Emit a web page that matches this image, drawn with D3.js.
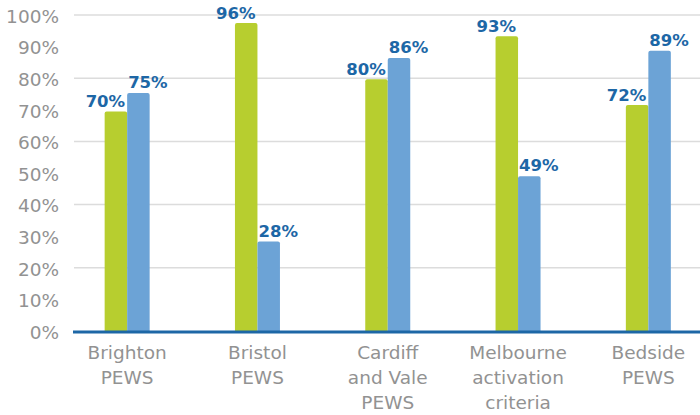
<!DOCTYPE html>
<html><head><meta charset="utf-8">
<script src="https://cdn.jsdelivr.net/npm/d3@7"></script>
<style>body{margin:0;background:#fff}svg{display:block}</style>
</head><body>
<svg id="chart" width="700" height="415"></svg>
<script>
const categories = [["Brighton","PEWS"],["Bristol","PEWS"],["Cardiff","and Vale","PEWS"],["Melbourne","activation","criteria"],["Bedside","PEWS"]];
const greenValues = [69.5, 97.5, 79.7, 93.3, 71.5];
const blueValues = [75.3, 28.3, 86.4, 49, 88.7];
const greenLabels = ["70%","96%","80%","93%","72%"];
const blueLabels = ["75%","28%","86%","49%","89%"];
const yTicks = [0,10,20,30,40,50,60,70,80,90,100];
const gridTicks = [20,40,60,80,100];

const svg = d3.select("#chart");
const keys = categories.map(c => c.join(" "));
const x = d3.scaleBand().domain(keys).range([62, 713.5]).padding(0);
const y = d3.scaleLinear().domain([0,100]).range([331, 15]);
const bw = 22.5;
const green = "#b7ce2f", blue = "#6ca3d6", dark = "#1d67a6";
const font = "'DejaVu Sans', sans-serif";

// grid
svg.append("g").selectAll("line").data(gridTicks).join("line")
  .attr("x1", 74).attr("x2", 700)
  .attr("y1", d => y(d)).attr("y2", d => y(d))
  .attr("stroke", "#dcdcdc").attr("stroke-width", 1.5);

// y tick labels
svg.append("g").selectAll("text").data(yTicks).join("text")
  .attr("x", 59).attr("y", d => y(d)).attr("dy", "0.42em")
  .attr("text-anchor", "end").attr("font-family", font).attr("font-size", 18.5)
  .attr("fill", "#929292").text(d => d + "%");

const cx = i => x(keys[i]) + x.bandwidth()/2;
function bar(vals, off, col) {
  svg.append("g").selectAll("rect").data(vals).join("rect")
    .attr("x", (d,i) => cx(i) + off).attr("width", bw)
    .attr("y", d => y(d)).attr("height", d => y(0) - y(d) + 1.5)
    .attr("rx", 2).attr("fill", col);
}
bar(greenValues, -bw, green);
bar(blueValues, 0, blue);

// axis line
svg.append("line").attr("x1", 73).attr("x2", 700).attr("y1", 332).attr("y2", 332)
  .attr("stroke", "#1d67a6").attr("stroke-width", 3);

// value labels
svg.append("g").selectAll("text").data(greenValues).join("text")
  .attr("x", (d,i) => cx(i) - 2).attr("y", d => y(d) - 4)
  .attr("text-anchor", "end").attr("font-family", font).attr("font-weight", "bold")
  .attr("font-size", 16.5).attr("fill", dark).text((d,i) => greenLabels[i]);
svg.append("g").selectAll("text").data(blueValues).join("text")
  .attr("x", (d,i) => cx(i) + 1).attr("y", d => y(d) - 5)
  .attr("text-anchor", "start").attr("font-family", font).attr("font-weight", "bold")
  .attr("font-size", 16.5).attr("fill", dark).text((d,i) => blueLabels[i]);

// x labels
const xl = svg.append("g").selectAll("text").data(categories).join("text")
  .attr("x", (d,i) => cx(i)).attr("y", 359)
  .attr("text-anchor", "middle").attr("font-family", font).attr("font-size", 18.5)
  .attr("fill", "#929292");
xl.selectAll("tspan").data(d => d).join("tspan")
  .attr("x", function(){ return this.parentNode.getAttribute("x"); })
  .attr("dy", (d,j) => j === 0 ? 0 : 25).text(d => d);
</script>
</body></html>
